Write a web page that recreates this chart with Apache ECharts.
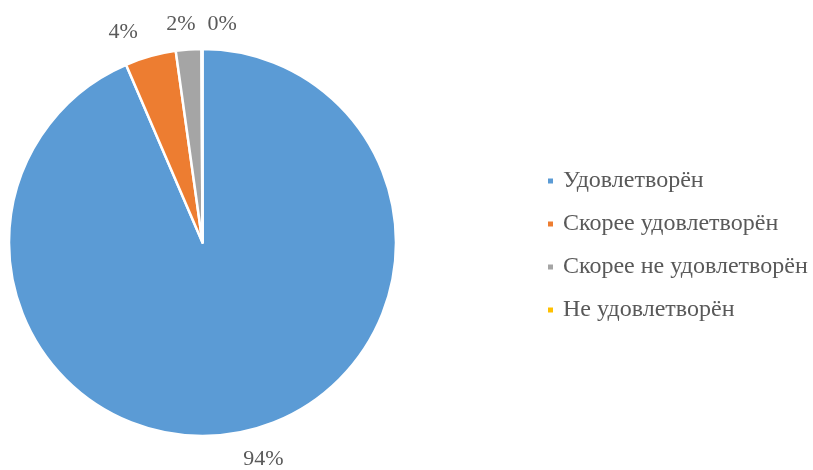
<!DOCTYPE html>
<html><head><meta charset="utf-8">
<script src="https://cdn.jsdelivr.net/npm/echarts@6/dist/echarts.min.js"></script>
<style>html,body{margin:0;padding:0;background:#fff}#c{width:813px;height:470px}</style>
</head><body><div id="c"></div>
<script>
const categories = ['Удовлетворён', 'Скорее удовлетворён', 'Скорее не удовлетворён', 'Не удовлетворён'];
const values = [44, 2, 1, 0];
const colors = ['#5B9BD5', '#ED7D31', '#A5A5A5', '#FFC000'];
// label nudges (pixels) to mimic the original label placement
const labelNudges = [[-9, 0], [0, 3], [14, 3], [40, 3]];

const chart = echarts.init(document.getElementById('c'));
chart.setOption({
  animation: false,
  color: colors,
  legend: {
    orient: 'vertical',
    left: 546,
    top: 169,
    padding: 0,
    itemWidth: 7,
    itemHeight: 7,
    itemGap: 19,
    icon: 'rect',
    data: categories,
    textStyle: { fontFamily: 'Liberation Serif', fontSize: 24, color: '#595959', lineHeight: 24, padding: [0, 0, 0, 4] }
  },
  series: [{
    type: 'pie',
    center: [202.5, 242.5],
    radius: 193.5,
    startAngle: 90,
    clockwise: true,
    avoidLabelOverlap: false,
    minAngle: 0.3,
    itemStyle: { borderColor: '#fff', borderWidth: 2.5 },
    label: {
      position: 'outside',
      fontFamily: 'Liberation Serif',
      fontSize: 22,
      color: '#595959',
      formatter: p => Math.round(values[p.dataIndex] / values.reduce((a, b) => a + b, 0) * 100) + '%'
    },
    labelLine: { show: false, length: 28, length2: 0 },
    labelLayout: p => ({ dx: labelNudges[p.dataIndex][0], dy: labelNudges[p.dataIndex][1] }),
    emphasis: { disabled: true },
    data: categories.map((n, i) => ({ name: n, value: values[i] }))
  }]
});
</script></body></html>
